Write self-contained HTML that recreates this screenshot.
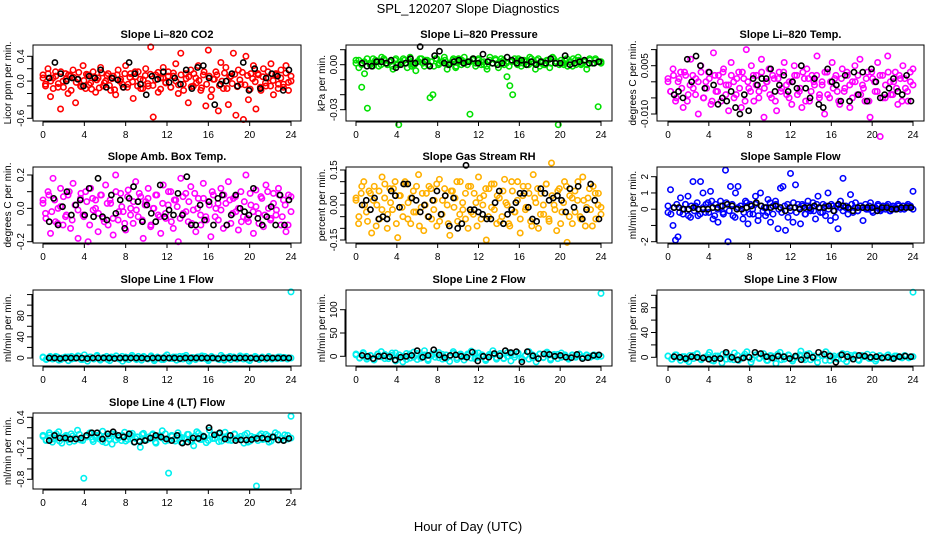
<!DOCTYPE html>
<html><head><meta charset="utf-8"><style>
html,body{margin:0;padding:0;background:#fff;}
svg{display:block;font-family:"Liberation Sans",Arial,sans-serif;}
</style></head><body>
<svg id="chart" width="936" height="540" viewBox="0 0 936 540">
<text x="468" y="13" text-anchor="middle" font-size="13">SPL_120207  Slope Diagnostics</text>
<text x="468" y="531" text-anchor="middle" font-size="13">Hour of Day (UTC)</text>
<g id="panels"></g>
</svg>
<script>
const xTicks=[0,4,8,12,16,20,24];
const titles=["Slope Li–820 CO2","Slope Li–820 Pressure","Slope Li–820 Temp.","Slope Amb. Box Temp.","Slope Gas Stream RH","Slope Sample Flow","Slope Line 1 Flow","Slope Line 2 Flow","Slope Line 3 Flow","Slope Line 4 (LT) Flow"];
const yLabels=["Licor ppm per min.","kPa per min.","degrees C per min.","degrees C per min.","percent per min.","ml/min per min.","ml/min per min.","ml/min per min.","ml/min per min.","ml/min per min."];
const yTickVals=[[0.4,0.2,0,-0.2,-0.4,-0.6],[0.01,0,-0.01,-0.02,-0.03],[0.01,0.005,0,-0.005,-0.01],[0.2,0.1,0,-0.1,-0.2],[0.15,0.1,0.05,0,-0.05,-0.1,-0.15],[2,1,0,-1,-2],[0,20,40,60,80,100,120],[0,50,100],[0,20,40,60,80,100],[0.4,0.2,0,-0.2,-0.4,-0.6,-0.8]];
const yTickLabels=[{"0.4":"0.4","0":"0.0","-0.6":"-0.6"},{"0":"0.00","-0.03":"-0.03"},{"0.005":"0.005","-0.01":"-0.010"},{"0.2":"0.2","0":"0.0","-0.2":"-0.2"},{"0.15":"0.15","0":"0.00","-0.15":"-0.15"},{"2":"2","1":"1","0":"0","-2":"-2"},{"0":"0","40":"40","80":"80"},{"0":"0","50":"50","100":"100"},{"0":"0","40":"40","80":"80"},{"0.4":"0.4","-0.2":"-0.2","-0.8":"-0.8"}];
const valueScale=[0.01,0.001,0.001,0.01,0.01,0.1,1,1,1,0.01];
const co2=[10,-5,20,-25,5,15,-10,-45,0,12,-20,8,18,-35,3,-8,25,-12,10,-3,15,-18,5,22,-8,0,12,-15,8,-22,18,3,-10,25,-5,12,-28,7,15,-12,2,20,-8,55,-58,10,-18,5,22,-3,15,-10,8,28,-20,45,-5,12,-35,18,-8,5,25,-15,10,-40,50,-25,3,15,-48,30,-12,22,-38,8,45,-55,18,-5,-62,40,-30,12,25,-45,10,-15,20,-8,5,28,-22,12,-5,18,-10,25,-15,0];
const co2Core=[5,-8,12,0,-12,8,-4,15,-10,3,10,-15,6,-2,14,-9,1,11,-6,-13,7,2,-11,13,-3,9,-7,4,-14,10,0,-5,12,-10,6,-1,15,-8,3,-12,9,-4,11,-7,2,14,-13,5,-2,8,-10,13,0,-6,10,-15,4,7,-9,12,-3,1,-11,15,-5,8,-14,3,10,-7,0,13,-12,6,-4,11,-9,2,14,-6,9,-13,4,-1,12,-10,7,-3,15,-8,1,10,-12,5,-5,13,-2,8];
const co2Mean=[5,30,12,0,5,3,-8,8,5,18,-10,5,2,-10,30,12,-5,-22,8,3,15,-2,5,-5,18,-12,22,25,5,-38,-5,0,12,-8,30,-15,20,-12,5,12,8,-15,18];
const pres=[3,-2,-15,-6,-29,0,4,2,-1,5,3,0,2,-3,4,-40,1,3,-2,5,0,-4,2,4,-1,3,-22,-20,4,0,2,5,-3,1,3,-2,4,0,5,2,-33,3,-1,4,2,0,-3,5,1,3,-2,4,0,-8,-14,-20,2,4,-1,3,0,5,2,-3,4,1,0,3,-2,5,1,-40,3,0,4,2,-1,3,5,0,2,-3,4,1,3,-28,2];
const presCore=[1,3,0,2,4,1,-1,3,2,0,4,1,2,-1,3,0,2,4,1,3,-1,0,2,4,1,3,0,2,-1,4,1,2,3,0,1,4,-1,2,3,1,0,2,4,1,3,0,2,-1,3,1,4,0,2,3,1,-1,2,4,0,3,1,2,0,4,1,3,-1,2,0,3,1,4,2,0,1,3,-1,2,4,0,3,1,2,0,3,1,4,2,1];
const presMean=[1,-1,-1,2,2,1,3,-2,0,1,4,1,12,2,-1,6,9,1,0,2,3,1,2,4,1,7,2,1,0,1,5,3,1,3,0,2,0,2,1,4,1,1,6,0,1,2,3,1,1,2];
const temp=[1,-3,4,-6,0,3,-8,2,-4,7,-2,1,-10,5,-5,0,3,-7,9,-3,2,-6,4,-1,-9,6,0,-4,3,-8,1,10,-2,5,-6,2,-3,7,-11,0,4,-5,1,-9,3,-2,6,-4,0,-7,5,2,-3,-8,1,4,-6,2,-1,8,-4,0,-10,3,-5,6,1,-3,-7,4,-2,2,-8,0,5,-4,7,-1,-6,3,-11,1,-3,6,-17,2,-5,8,0,-4,3,-7,1,5,-2,-6,0,4];
const tempCore=[0,-3,2,-5,1,-2,3,-6,-1,2,-4,0,3,-5,-2,1,-6,2,-3,0,3,-4,-1,2,-5,1,-2,3,-6,0,-3,2,-1,-5,3,-2,0,-4,2,-6,1,-3,3,-1,-5,0,2,-4,-2,3,-6,1,-3,0,2,-5,-1,3,-4,0,-2,2,-6,1,-3,3,-1,-5,0,2,-4,-2,1,-6,3,0,-3,2,-5,-1,3,-4,0,-2,2,-6,1,-3,3,-1];
const tempMean=[-4,-3,-5,7,0,8,5,-2,3,-1,-7,-5,-6,-3,-8,-10,-4,-9,1,-1,1,1,4,-3,-1,2,-3,0,-2,5,-2,-5,1,-7,-8,4,0,-1,-6,2,-6,3,-4,3,-6,4,0,-5,-4,-2,1,-3,-4,2,-6];
const amb=[5,-3,10,-15,18,-8,0,12,-10,-5,8,-12,15,2,-18,6,-4,10,-20,12,-1,5,-14,8,-6,14,-10,3,-16,20,-7,9,-2,-13,11,0,-9,16,-5,7,-18,4,12,-11,0,8,-4,-15,14,-6,2,10,-12,5,-20,18,-3,9,-8,13,-1,-14,6,-10,15,-5,4,-17,8,0,-7,12,-12,3,16,-9,6,-2,-13,10,-5,20,-8,2,-15,11,-3,7,-11,14,0,-6,9,-4,12,-10,5,-14,8,-2];
const ambCore=[3,-6,8,-2,5,-9,1,7,-4,10,-7,2,-1,9,-5,4,-10,6,0,-3,8,-8,3,5,-6,10,-2,1,-9,7,-4,4,-1,9,-7,2,6,-10,0,8,-5,3,-3,10,-8,5,1,-6,7,-2,4,-9,9,0,-4,6,-7,2,10,-5,3,-1,8,-10,5,-3,7,0,-8,4,-6,9,-2,1,-9,6,-4,10,-7,3,-1,8,-5,2,-10,7];
const ambMean=[-8,6,-10,1,10,-4,2,5,-4,12,-5,18,-5,-7,8,-3,5,-12,6,13,4,-8,2,-3,-8,14,-5,-1,-4,9,-4,19,-10,-10,2,-7,4,-10,6,8,-10,-4,8,0,-2,-4,12,-6,-10,-5,1,-10,8,-10,5];
const rh=[2,-8,5,10,-3,6,-12,8,0,-6,12,3,-10,7,-2,10,-14,4,-5,9,1,-8,6,-3,13,-1,-11,5,8,-6,2,-9,11,-4,7,0,-13,6,3,-7,10,-2,5,-10,8,-4,1,12,-6,4,-15,7,-1,9,-8,3,-5,11,0,-9,6,-3,10,-12,4,-2,8,-7,13,1,-10,5,-4,9,-6,18,0,-11,7,-3,10,-16,4,-8,6,2,-5,12,-9,3,-2,8,-6,5,-1];
const rhCore=[3,-5,8,0,-7,5,2,-9,6,-2,9,-4,1,7,-8,4,-1,10,-6,3,-3,8,-9,5,0,-5,7,-2,9,-7,2,4,-8,6,-1,10,-4,1,-6,8,-3,5,-9,3,0,7,-5,9,-2,4,-7,6,1,-8,10,-3,2,-6,8,-1,5,-9,3,7,-4,0,9,-7,4,-2,6,-8,1,8,-5,3,-3,10,-6,2,-1,7,-9,5,0,-4];
const rhMean=[0,2,-2,3,-6,-5,-6,6,4,-1,9,9,3,2,-3,0,-5,2,6,-4,4,-9,3,-10,-8,17,-2,-2,-3,-4,-6,-6,1,6,-8,-4,-2,1,5,5,-1,-6,-7,7,5,2,3,4,2,-3,7,-1,8,-6,-2,9,2,-6];
const samp=[-2,12,-10,-19,-17,7,-3,3,8,-5,17,2,-4,17,10,-2,4,11,-6,3,-8,5,-2,24,-20,14,-4,10,14,2,-6,5,-9,3,-3,8,-7,10,-1,-4,6,-8,2,5,-12,13,14,-13,-5,22,-8,15,3,-9,2,-3,5,-1,4,-6,8,-2,3,-4,10,-7,2,-5,-12,5,19,1,-3,9,-2,4,-1,2,-7,3,0,4,-2,1,3,-1,2,0,3,-1,2,1,3,0,2,1,3,2,11];
const sampCore=[2,-3,1,3,-2,0,3,-4,2,-1,4,-3,1,3,-2,5,-4,0,2,-3,4,-1,3,-5,1,2,-2,4,-3,0,3,-4,2,1,-2,4,-3,3,0,-2,2,3,-1,4,-2,1,3,-3,2,0,-1,3,1,-2,2,0,3,-1,2,1,-1,2,0,3,1,-1,2,1,0,2,-1,1,2,0,1,2,-1,1,0,2,1,0,2,1,0];
const sampMean=[1,1,0,0,1,0,0,0,1,1,2,3,2,0,0,1,2,4,2,1,1,2,1,-1,1,1,0,1,1,2,1,1,2,-1,3,2,1,-1,1,1,1,1,-1,1,1,0,0,1,1,1];
const line1=[2,-3,1,-2,3,-4,0,2,-5,3,-1,4,-3,6,-6,2,-2,5,-4,1,3,-5,0,4,-2,-6,2,-3,5,-1,3,-4,1,-2,4,-5,2,0,-3,6,-1,2,-4,3,-2,5,-6,1,-3,2,4,-1,-5,3,0,-2,5,-4,1,-3,2,-1,4,-2,3,-5,0,2,-3,1,-1,3,-2,0,2,-1,1,0,125];
const line1Core=[1,-2,3,-1,2,-3,0,2,-2,1,3,-3,0,2,-1,3,-2,1,-3,2,0,-1,3,-2,1,2,-3,0,3,-1,2,-2,1,-3,3,0,-1,2,-2,3,1,-3,0,2,-1,3,-2,1,0,-3,2,-1,3,0,-2,1,2,-3,0,3,-1,2,-2,1,0,-1,2,1,-2,0];
const line1Mean=[0,0,-1,0,0,0,0,-1,0,0,0,0,-1,0,0,0,0,0,-1,0,0,0,0,0,-1,0,0,0,0,0,0,-1,0,0,0,0,0,0,-1,0,0,0,0,0,0];
const line2=[5,-3,8,-6,2,-8,4,10,-5,0,7,-10,3,-12,6,-4,9,-7,1,12,-9,4,-2,8,-6,3,-11,10,-3,5,-8,2,11,-5,7,-1,-9,4,12,-6,2,-4,8,-10,3,6,-7,1,10,-3,-12,5,-2,9,-8,4,-5,7,0,-6,3,-2,5,-4,2,0,3,-1,135];
const line2Core=[3,-4,6,-2,1,-6,5,-1,4,-5,2,7,-3,0,-7,5,-2,6,-4,3,-6,1,7,-3,4,-5,0,6,-7,2,-1,5,-4,7,-2,3,-6,1,4,-3,6,-5,0,5,-2,7,-4,2,-6,3,-1,5,-3,6,-5,1,4,-2,3,-4,2,0,4,-1,3,-2,1,2,0];
const line2Mean=[2,0,-5,0,1,-1,-8,-2,0,2,12,-2,2,14,3,-3,2,3,0,-2,9,-10,0,-2,6,1,12,8,10,-12,10,1,-5,5,4,0,2,-2,-3,4,-5,-3,2,3];
const line3=[2,-3,4,-5,1,-7,3,6,-4,0,8,-6,2,-9,5,-3,7,-5,1,9,-8,3,-2,6,-5,2,-10,8,-3,4,-6,1,10,-4,6,-1,-8,3,9,-5,2,-3,6,-7,3,4,-5,1,5,-2,-6,3,-1,4,-2,2,0,3,-1,105];
const line3Core=[2,-3,4,-1,1,-4,3,-2,5,-3,0,4,-5,2,-1,5,-3,1,-4,3,-2,5,0,-3,4,-1,2,-5,3,-2,5,-4,1,3,-3,0,4,-2,5,-4,2,-1,3,-5,4,0,-2,3,-3,5,-1,2,-4,3,1,-2,4,-3,2,0,3,-1,2,1,-1,2,0,1];
const line3Mean=[1,0,-2,1,0,-1,-3,-2,-2,8,0,-4,-1,0,8,6,1,-1,2,1,-2,2,-4,3,0,8,5,2,-8,4,1,-3,3,2,0,1,-1,0,-2,1,2,1];
const line4=[5,-5,10,-8,0,12,-10,3,-3,8,-6,15,-4,-78,2,10,-7,5,-2,13,-9,4,-12,7,0,-5,11,-3,6,-8,2,-18,9,-4,-1,8,-10,3,14,-6,-68,5,-2,10,-8,0,7,-5,-15,12,-3,4,-9,15,-1,6,-7,2,11,-4,-5,8,-2,3,-10,9,-6,0,-93,5,-3,7,-8,2,10,-4,0,6,-2,42];
const line4Core=[3,-4,6,-2,8,-6,1,5,-8,4,-1,7,-5,2,9,-3,0,6,-7,4,-2,8,-4,1,5,-6,3,9,-1,-5,7,-3,2,6,-8,4,0,8,-4,3,-6,5,1,-2,7,-7,4,9,-3,1,-5,6,-1,8,-6,2,5,-4,7,0,-3,6,-8,3,1,-5,8,-2,4,-6,2,7,-1,-4,5,0];
const line4Mean=[-5,5,0,0,-2,-2,0,5,10,10,-2,8,12,5,2,8,-8,-7,-5,0,5,2,-2,-5,5,-10,-8,0,-1,3,20,6,10,-2,5,-5,-4,-4,-3,-1,0,-2,2,-4,-5,-1];
const seriesMain=[co2,pres,temp,amb,rh,samp,line1,line2,line3,line4];
const seriesCore=[co2Core,presCore,tempCore,ambCore,rhCore,sampCore,line1Core,line2Core,line3Core,line4Core];
const seriesMean=[co2Mean,presMean,tempMean,ambMean,rhMean,sampMean,line1Mean,line2Mean,line3Mean,line4Mean];

// layout (not data)
const colors=["#ff0000","#00e000","#ff00ff","#ff00ff","#ffb000","#0000ff","#00f0f0","#00f0f0","#00f0f0","#00f0f0"];
const cols=[{b0:33,b1:301,h0:43,h24:291,yl:11},{b0:346,b1:612,h0:356,h24:601,yl:325},{b0:657,b1:924,h0:668,h24:913,yl:636}];
const rows=[{t:45,b:121},{t:167,b:243},{t:290,b:366},{t:413,b:489}];
const yRefs=[[0.4,56.3,-0.6,118.3],[0,64.7,-0.03,109.7],[0.005,65.7,-0.01,114],[0.2,175,-0.2,241.7],[0.15,170,-0.15,240],[2,176.7,-2,241.7],[0,358,80,315.7],[0,356.3,100,309.7],[0,357.3,80,307.7],[0.4,417.3,-0.8,479.3]];
const NS="http://www.w3.org/2000/svg";
const root=document.getElementById('panels');
function mk(tag,attrs,parent){const e=document.createElementNS(NS,tag);for(const k in attrs)e.setAttribute(k,attrs[k]);parent.appendChild(e);return e;}
titles.forEach((title,p)=>{
  const c=cols[p%3], r=rows[Math.floor(p/3)];
  const xs=h=>c.h0+(c.h24-c.h0)*h/24;
  const ref=yRefs[p];
  const ys=v=>ref[1]+(v-ref[0])*(ref[3]-ref[1])/(ref[2]-ref[0]);
  const g=mk('g',{},root);
  
  
  const t=mk('text',{x:(c.b0+c.b1)/2,y:r.t-7,'text-anchor':'middle','font-size':'11','font-weight':'bold'},g);
  t.textContent=title;
  
  
  const yl=mk('text',{x:c.yl,y:(r.t+r.b)/2,'text-anchor':'middle','font-size':'10',transform:`rotate(-90 ${c.yl} ${(r.t+r.b)/2})`},g);
  yl.textContent=yLabels[p];
  
  
  const pts=mk('g',{fill:'none','stroke-width':'1.6'},g);
  
  
  const sc=valueScale[p];
  [seriesCore[p],seriesMain[p]].forEach(arr=>{
    arr.forEach((v,i)=>{
      const cc=mk('circle',{cx:xs(24*i/(arr.length-1)),cy:ys(v*sc),r:2.7,stroke:colors[p]},pts);
      
      
    });
  });
  const mean=seriesMean[p];
  mean.forEach((v,i)=>{
    const cc=mk('circle',{cx:xs(0.6+23.2*i/(mean.length-1)),cy:ys(v*sc),r:2.6,stroke:'#000'},pts);
    
    
  });
  const box=mk('rect',{x:c.b0,y:r.t,width:c.b1-c.b0,height:r.b-r.t,fill:'none',stroke:'#000','stroke-width':'1'},g);
  
  
  const xa=mk('g',{},g);
  
  
  mk('line',{x1:xs(0),x2:xs(24),y1:r.b+1,y2:r.b+1,stroke:'#000'},xa);
  xTicks.forEach(h=>{
    mk('line',{x1:xs(h),x2:xs(h),y1:r.b,y2:r.b+5,stroke:'#000'},xa);
    const tl=mk('text',{x:xs(h),y:r.b+17,'text-anchor':'middle','font-size':'10'},xa);
    tl.textContent=h;
    
    
  });
  const ya=mk('g',{},g);
  
  
  const tv=yTickVals[p];
  const yv=tv.map(ys);
  mk('line',{x1:c.b0-1,x2:c.b0-1,y1:Math.min(...yv),y2:Math.max(...yv),stroke:'#000'},ya);
  tv.forEach(v=>{
    const y=ys(v);
    mk('line',{x1:c.b0-6,x2:c.b0,y1:y,y2:y,stroke:'#000'},ya);
    const lab=yTickLabels[p][String(v)];
    if(lab!==undefined){
      const tx=c.b0-9;
      const tl=mk('text',{x:tx,y:y,'text-anchor':'middle','font-size':'10',transform:`rotate(-90 ${tx} ${y})`},ya);
      tl.textContent=lab;
      
      
    }
  });
});
</script>
</body></html>
